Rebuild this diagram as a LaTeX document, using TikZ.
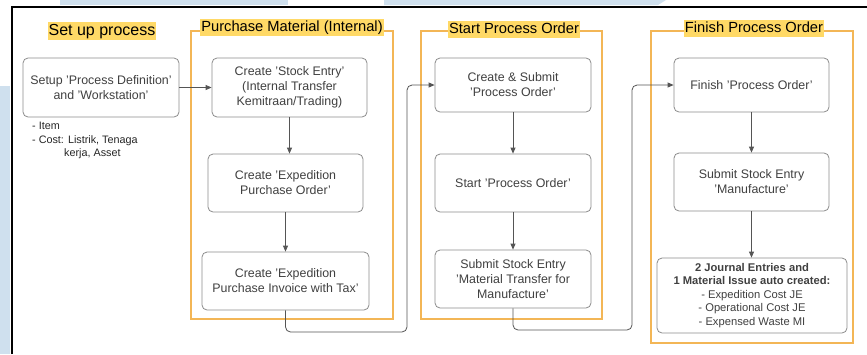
\documentclass[tikz,border=0pt]{standalone}
\usepackage{fontspec}
\setmainfont{Liberation Sans}
\usetikzlibrary{arrows.meta}
\definecolor{bgblue}{HTML}{CFE0EE}
\definecolor{hl}{HTML}{FFD966}
\definecolor{grp}{HTML}{F3B656}
\definecolor{nodeline}{HTML}{8C8C8C}
\definecolor{txt}{HTML}{404040}
\definecolor{conncol}{HTML}{555555}
\tikzset{
  proc/.style={draw=nodeline, line width=0.8pt, rounded corners=5pt, fill=white,
    align=center, text=txt, inner sep=2pt, font=\fontsize{12.4}{15}\selectfont},
  conn/.style={draw=conncol, line width=0.8pt, -{Triangle[length=6pt,width=5pt]}},
  link/.style={conn, rounded corners=5pt},
  grpbox/.style={draw=grp, line width=1.1pt},
  grptitle/.style={fill=hl, inner xsep=1pt, inner ysep=1pt, text height=11pt, text depth=3.5pt,
    text=black, font=\fontsize{14.7}{17}\selectfont},
}
\begin{document}
\begin{tikzpicture}[x=1pt,y=-1pt]
\useasboundingbox (0,0) rectangle (867,354);
\fill[white] (0,0) rectangle (867,354);
% background decoration
\fill[bgblue] (60,0) rectangle (288,5);
\fill[bgblue] (384,0) -- (666,0) -- (658,5) -- (384,5) -- cycle;
\fill[bgblue] (0,86) rectangle (10,354);
\draw[black, line width=2pt] (11.5,354) -- (11.5,6.5) -- (867,6.5);

% group boxes
\draw[grpbox] (191,31) rectangle (393,319);
\draw[grpbox] (421,31) rectangle (602,319);
\draw[grpbox] (651,31) rectangle (853,343);

% titles
\node[grptitle, font=\fontsize{16}{18}\selectfont, text height=12pt, text depth=4pt] (t0) at (102,31) {Set up process};
\node[grptitle] (t1) at (292,27.5) {Purchase Material (Internal)};
\node[grptitle] (t2) at (514,29.5) {Start Process Order};
\node[grptitle] (t3) at (754,28.5) {Finish Process Order};

% process nodes
\node[proc, minimum width=156, minimum height=59] (setup) at (101,87.5) {Setup 'Process Definition'\\and 'Workstation'};
\node[proc, minimum width=155, minimum height=59] (se) at (289.5,87.5) {Create 'Stock Entry'\\(Internal Transfer\\Kemitraan/Trading)};
\node[proc, minimum width=155, minimum height=58] (epo) at (285.5,183) {Create 'Expedition\\Purchase Order'};
\node[proc, minimum width=167, minimum height=58] (epi) at (285.5,281) {Create 'Expedition\\Purchase Invoice with Tax'};
\node[proc, minimum width=156, minimum height=54] (csp) at (513,85) {Create \& Submit\\'Process Order'};
\node[proc, minimum width=156, minimum height=58] (spo) at (513,183) {Start 'Process Order'};
\node[proc, minimum width=156, minimum height=58] (mtm) at (513,279) {Submit Stock Entry\\'Material Transfer for\\Manufacture'};
\node[proc, minimum width=155, minimum height=54] (fpo) at (751.5,85) {Finish 'Process Order'};
\node[proc, minimum width=155, minimum height=58] (man) at (751.5,182) {Submit Stock Entry\\'Manufacture'};
\node[proc, minimum width=190, minimum height=75, font=\fontsize{11.2}{13.5}\selectfont] (jour) at (752,295.5)
  {\textbf{2 Journal Entries and}\\\textbf{1 Material Issue auto created:}\\- Expedition Cost JE\\- Operational Cost JE\\- Expensed Waste MI};

% notes
\node[anchor=north west, align=left, inner sep=0pt, text=black!85, font=\fontsize{10.8}{13.5}\selectfont] (notes) at (32,122)
  {- Item\\- Cost: Listrik, Tenaga\\\hspace*{32pt}kerja, Asset};

% connectors
\draw[conn] (setup.east) -- (se.west);
\draw[conn] (se.south) -- (se.south |- epo.north);
\draw[conn] (epo.south) -- (epo.south |- epi.north);
\draw[conn] (csp.south) -- (csp.south |- spo.north);
\draw[conn] (spo.south) -- (spo.south |- mtm.north);
\draw[conn] (fpo.south) -- (fpo.south |- man.north);
\draw[conn] (man.south) -- (man.south |- jour.north);
\coordinate (r1) at (407,332);
\coordinate (r2) at (632,330);
\draw[link] (epi.south) |- (r1) |- (csp.west);
\draw[link] (mtm.south) |- (r2) |- (fpo.west);
\end{tikzpicture}
\end{document}
